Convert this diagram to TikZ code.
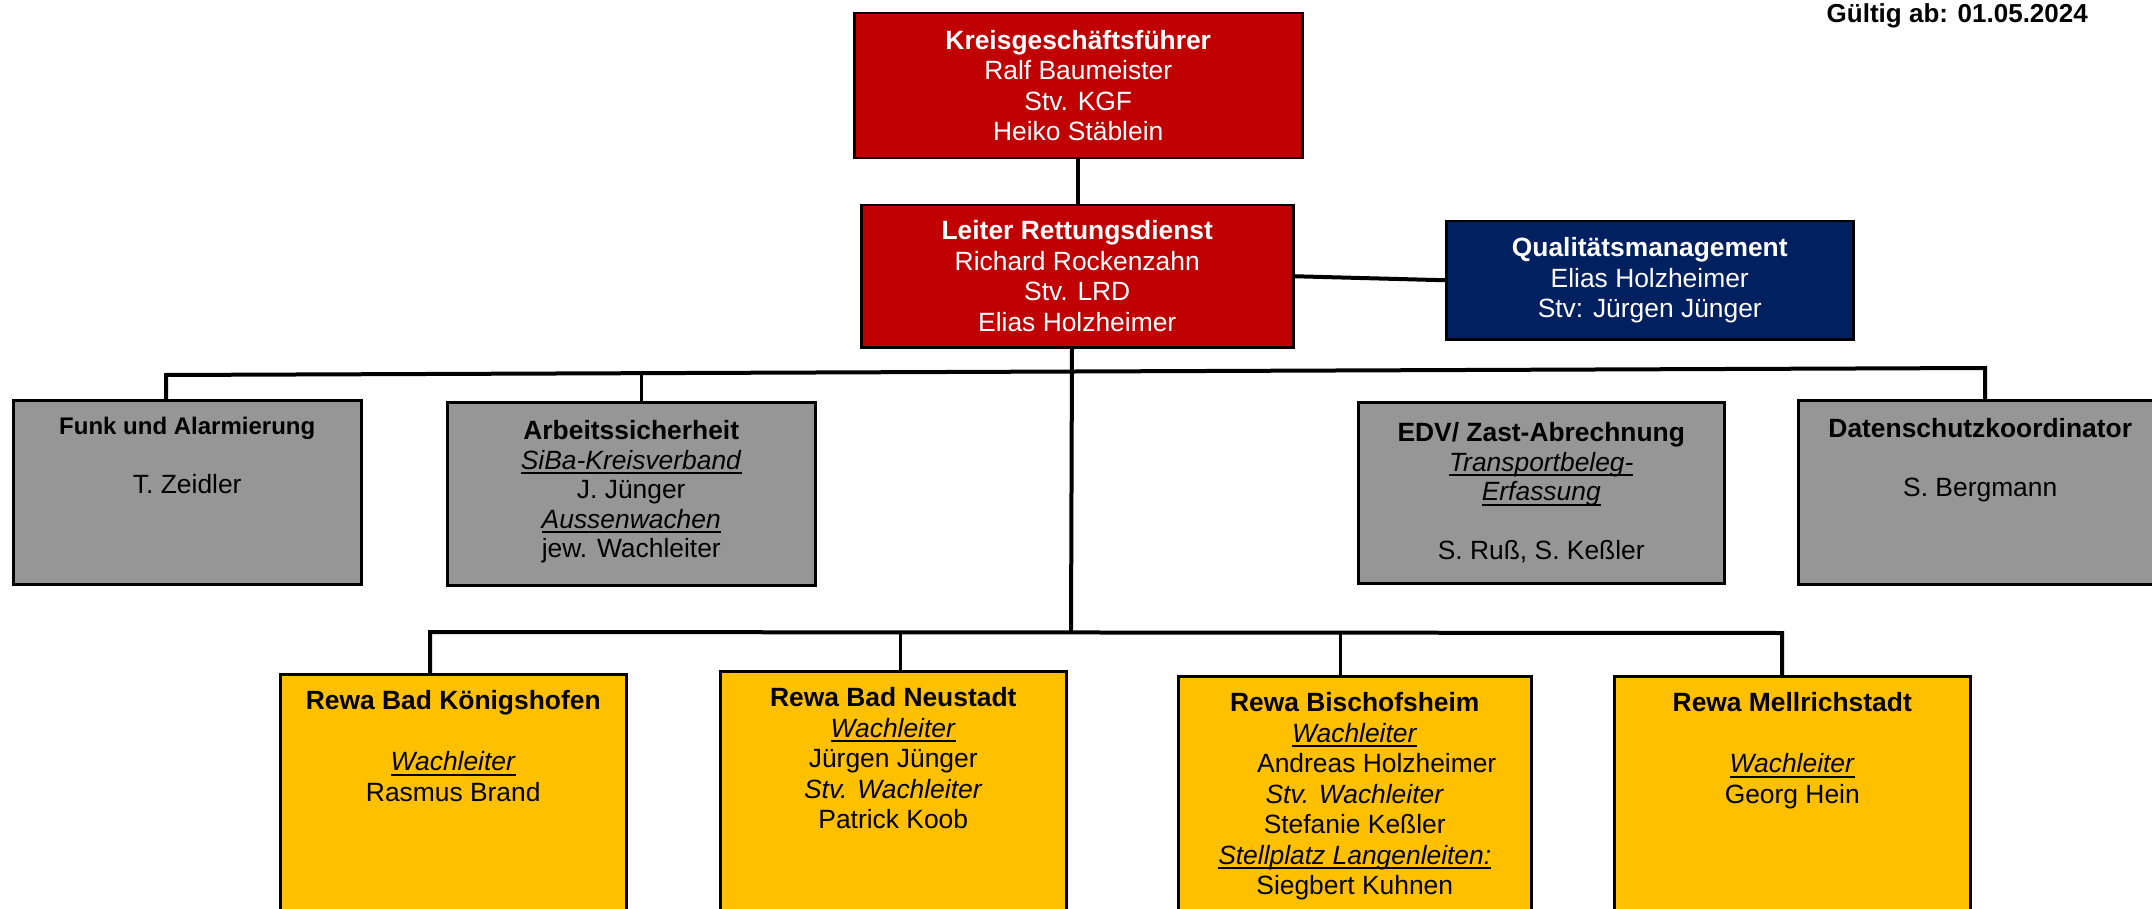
\documentclass[tikz,border=0pt]{standalone}
\usepackage{fontspec}
\setmainfont{Liberation Sans}
\definecolor{kred}{HTML}{C00000}
\definecolor{knavy}{HTML}{002060}
\definecolor{kgray}{HTML}{969696}
\definecolor{kgold}{HTML}{FFC000}
\newcommand{\myul}[1]{\leavevmode\setbox0=\hbox{#1}\rlap{\rule[-5pt]{\wd0}{2pt}}\box0}
\newcommand{\bxt}[4]{\parbox[c][#2][t]{#1}{\centering\vspace*{#3}\strut#4}}
\newcommand{\bxc}[3]{\parbox[c][#2][c]{#1}{\centering #3}}
\begin{document}
\begin{tikzpicture}[x=1pt,y=-1pt,
  box/.style={draw=black, line width=2.5pt, inner sep=0pt, anchor=north west},
  redbox/.style={box, fill=kred, text=white, font={\fontsize{26.4}{30.5}\selectfont}},
  navybox/.style={box, fill=knavy, text=white, font={\fontsize{26.4}{30.5}\selectfont}},
  graybox/.style={box, fill=kgray, text=black, font={\fontsize{26.4}{29.5}\selectfont}},
  goldbox/.style={box, fill=kgold, text=black, font={\fontsize{26.4}{30.5}\selectfont}},
  conn/.style={draw=black, line width=4pt, line join=miter},
  drop/.style={draw=black, line width=3pt}]
\useasboundingbox (0,0) rectangle (2152,909);

% top level
\node[redbox] (kgf) at (853,12) {\bxc{448pt}{145pt}{\textbf{Kreisgeschäftsführer}\\Ralf Baumeister\\Stv. KGF\\Heiko Stäblein}};
\node[redbox] (lrd) at (860,204) {\bxc{432pt}{142pt}{\textbf{Leiter Rettungsdienst}\\Richard Rockenzahn\\Stv. LRD\\Elias Holzheimer}};
\node[navybox] (qm) at (1445,220) {\bxc{407pt}{118pt}{\textbf{Qualitätsmanagement}\\Elias Holzheimer\\Stv: Jürgen Jünger}};

% staff row
\node[graybox] (funk) at (12,399) {\bxt{348pt}{184pt}{14pt}{{\fontsize{24}{29.5}\selectfont\textbf{Funk und Alarmierung}}\\ \mbox{}\\T. Zeidler}};
\node[graybox] (arb) at (446,401) {\bxt{368pt}{183pt}{16.8pt}{\textbf{Arbeitssicherheit}\\\myul{\textit{SiBa-Kreisverband}}\\J. Jünger\\\myul{\textit{Aussenwachen}}\\jew. Wachleiter}};
\node[graybox] (edv) at (1357,401) {\bxt{366pt}{181pt}{18.8pt}{\textbf{EDV/ Zast-Abrechnung}\\\myul{\textit{Transportbeleg-}}\\\myul{\textit{Erfassung}}\\ \mbox{}\\S. Ruß, S. Keßler}};
\node[graybox] (dat) at (1797,399) {\bxt{364pt}{184pt}{17pt}{\textbf{Datenschutzkoordinator}\\ \mbox{}\\S. Bergmann}};

% stations
\node[goldbox] (kon) at (279,673) {\bxt{346pt}{260pt}{14.2pt}{\textbf{Rewa Bad Königshofen}\\ \mbox{}\\\myul{\textit{Wachleiter}}\\Rasmus Brand}};
\node[goldbox] (neu) at (719,670) {\bxt{346pt}{263pt}{14.2pt}{\textbf{Rewa Bad Neustadt}\\\myul{\textit{Wachleiter}}\\Jürgen Jünger\\\textit{Stv. Wachleiter}\\Patrick Koob}};
\node[goldbox] (bis) at (1177,675) {\bxt{353pt}{258pt}{14.2pt}{\textbf{Rewa Bischofsheim}\\\myul{\textit{Wachleiter}}\\\hspace*{44pt}Andreas Holzheimer\\\textit{Stv. Wachleiter}\\Stefanie Keßler\\\myul{\textit{Stellplatz Langenleiten:}}\\Siegbert Kuhnen}};
\node[goldbox] (mel) at (1613,675) {\bxt{356pt}{258pt}{14.2pt}{\textbf{Rewa Mellrichstadt}\\ \mbox{}\\\myul{\textit{Wachleiter}}\\Georg Hein}};

% date
\node[anchor=base east, inner sep=0pt, font={\fontsize{26}{30}\selectfont\bfseries}] (date) at (2088,23) {Gültig ab: 01.05.2024};

% connectors
\draw[conn] (kgf.south) -- (kgf.south |- lrd.north);
\draw[conn] (lrd.east) -- (qm.west);
\coordinate (tbL) at (166,375);
\coordinate (tbR) at (1985,368);
\coordinate (tbA) at (641,373.2);
\coordinate (lrdB) at (1072,346);
\coordinate (bbM) at (1071,632);
\draw[conn] (tbL |- funk.north) -- (tbL) -- (tbR) -- (tbR |- dat.north);
\draw[drop] (tbA) -- (tbA |- arb.north);
\draw[conn] (lrdB) -- (bbM);
\coordinate (bbL) at (430,632);
\coordinate (bbR) at (1782,633);
\coordinate (bbN) at (900,632);
\coordinate (bbB) at (1340,632.5);
\draw[conn] (bbL |- kon.north) -- (bbL) -- (bbR) -- (bbR |- mel.north);
\draw[drop] (bbN) -- (bbN |- neu.north);
\draw[drop] (bbB) -- (bbB |- bis.north);
\end{tikzpicture}
\end{document}
